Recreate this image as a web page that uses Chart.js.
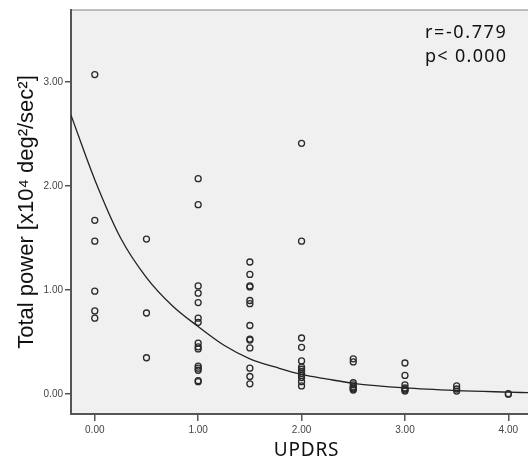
<!DOCTYPE html>
<html>
<head>
<meta charset="utf-8">
<script src="https://cdn.jsdelivr.net/npm/chart.js@4/dist/chart.umd.min.js"></script>
<style>
  html, body { margin: 0; padding: 0; background: #fff; }
  #wrap { width: 528px; height: 462px; }
</style>
</head>
<body>
<div id="wrap"><canvas id="powerChart" width="528" height="462"></canvas></div>
<script>
// UPDRS score and total power for each subject
const updrs = [
    0, 0, 0, 0, 0, 0,
    0.5, 0.5, 0.5,
    1, 1, 1, 1, 1, 1, 1, 1, 1, 1, 1, 1, 1, 1, 1,
    1.5, 1.5, 1.5, 1.5, 1.5, 1.5, 1.5, 1.5, 1.5, 1.5, 1.5, 1.5, 1.5,
    2, 2, 2, 2, 2, 2, 2, 2, 2, 2, 2, 2, 2,
    2.5, 2.5, 2.5, 2.5, 2.5, 2.5, 2.5, 2.5,
    3, 3, 3, 3, 3, 3, 3,
    3.5, 3.5, 3.5,
    4, 4
];
const totalPower = [
    3.07, 1.67, 1.47, 0.99, 0.80, 0.73,
    1.49, 0.78, 0.35,
    2.07, 1.82, 1.04, 0.97, 0.88, 0.73, 0.69, 0.49, 0.455, 0.435, 0.27, 0.25, 0.23, 0.13, 0.12,
    1.27, 1.15, 1.04, 1.03, 0.90, 0.87, 0.66, 0.53, 0.52, 0.445, 0.25, 0.17, 0.10,
    2.41, 1.47, 0.54, 0.45, 0.32, 0.26, 0.24, 0.22, 0.20, 0.18, 0.16, 0.12, 0.08,
    0.34, 0.31, 0.11, 0.09, 0.07, 0.06, 0.05, 0.04,
    0.30, 0.18, 0.09, 0.06, 0.05, 0.04, 0.03,
    0.08, 0.05, 0.03,
    0.005, 0.0
];

// fitted curve
const fitX = [-0.23, 0, 0.25, 0.5, 0.75, 1, 1.25, 1.5, 1.75, 2, 2.25, 2.5, 3, 3.5, 4, 4.19];
const fitY = [2.68, 2.06, 1.50, 1.12, 0.85, 0.65, 0.47, 0.34, 0.26, 0.19, 0.145, 0.105, 0.06, 0.035, 0.02, 0.015];

const xTicks = [0, 1, 2, 3, 4];
const yTicks = [0, 1, 2, 3];
const statLines = ["r=-0.779", "p< 0.000"];
const xTitle = "UPDRS";

const points = updrs.map((u, i) => ({ x: u, y: totalPower[i] }));
const curve = fitX.map((u, i) => ({ x: u, y: fitY[i] }));

const plotFrame = {
    id: "plotFrame",
    beforeDraw(chart) {
        const { ctx, chartArea } = chart;
        ctx.save();
        ctx.fillStyle = "#f0f0f0";
        ctx.fillRect(chartArea.left, chartArea.top, chartArea.right - chartArea.left, chartArea.bottom - chartArea.top);
        ctx.strokeStyle = "#a8a8a8";
        ctx.lineWidth = 1.5;
        ctx.beginPath();
        ctx.moveTo(chartArea.left, chartArea.top);
        ctx.lineTo(chartArea.right, chartArea.top);
        ctx.stroke();
        ctx.restore();
    },
    afterDraw(chart) {
        const { ctx, chartArea } = chart;
        ctx.save();
        ctx.fillStyle = "#111";
        ctx.font = "18px 'Noto Sans'";
        ctx.textBaseline = "alphabetic";
        ctx.letterSpacing = "1.6px";
        ctx.fillText(statLines[0], 425, 38);
        ctx.letterSpacing = "1.3px";
        ctx.fillText(statLines[1], 425, 62);

        // x axis title
        ctx.font = "19px 'Noto Sans'";
        ctx.letterSpacing = "0.8px";
        ctx.textAlign = "center";
        ctx.fillText(xTitle, (chartArea.left + chartArea.right) / 2 + 7, 456);
        ctx.restore();
    },
};

const tickFont = { family: "'Liberation Sans', Arial, sans-serif", size: 10 };

new Chart(document.getElementById("powerChart").getContext("2d"), {
    type: "scatter",
    data: {
        datasets: [
            {
                label: "subjects",
                data: points,
                pointRadius: 3,
                pointBorderWidth: 1.3,
                pointBorderColor: "#2a2a2a",
                pointBackgroundColor: "rgba(0,0,0,0)",
                pointHoverRadius: 3,
            },
            {
                type: "line",
                label: "fit",
                data: curve,
                borderColor: "#222",
                borderWidth: 1.3,
                pointRadius: 0,
                fill: false,
                cubicInterpolationMode: "monotone",
            },
        ],
    },
    options: {
        responsive: false,
        animation: false,
        layout: { autoPadding: false, padding: { top: 10, right: 0, bottom: 0, left: 0 } },
        plugins: {
            legend: { display: false },
            tooltip: { enabled: false },
        },
        scales: {
            x: {
                type: "linear",
                min: -0.23,
                max: 4.19,
                afterFit: (scale) => {
                    scale.height = 48;
                    scale.paddingLeft = 0;
                    scale.paddingRight = 0;
                },
                afterBuildTicks: (scale) => { scale.ticks = xTicks.map((v) => ({ value: v })); },
                grid: {
                    drawOnChartArea: false,
                    drawTicks: true,
                    tickLength: 7,
                    color: "#555",
                    lineWidth: 1.5,
                },
                border: { display: true, color: "#555", width: 2 },
                ticks: {
                    font: tickFont,
                    color: "#444",
                    padding: 3,
                    maxRotation: 0,
                    callback: (v) => Number(v).toFixed(2),
                },
                title: { display: false },
            },
            y: {
                type: "linear",
                min: -0.19,
                max: 3.69,
                afterFit: (scale) => {
                    scale.width = 71;
                    scale.paddingTop = 0;
                    scale.paddingBottom = 0;
                },
                afterBuildTicks: (scale) => { scale.ticks = yTicks.map((v) => ({ value: v })); },
                grid: {
                    drawOnChartArea: false,
                    drawTicks: true,
                    tickLength: 6,
                    color: "#555",
                    lineWidth: 1.5,
                },
                border: { display: true, color: "#555", width: 2 },
                ticks: {
                    font: tickFont,
                    color: "#444",
                    padding: 2,
                    callback: (v) => Number(v).toFixed(2),
                },
                title: {
                    display: true,
                    text: "Total power [x10⁴ deg²/sec²]",
                    color: "#111",
                    font: { family: "'Liberation Sans', Arial, sans-serif", size: 22 },
                    padding: { top: 14, bottom: 0 },
                },
            },
        },
    },
    plugins: [plotFrame],
});
</script>
</body>
</html>
